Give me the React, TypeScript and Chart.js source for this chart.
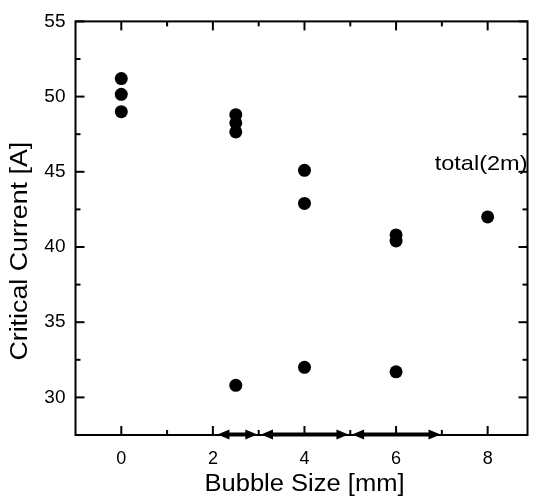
import React, { useEffect, useRef } from "react";
import { Chart, registerables } from "chart.js";

Chart.register(...registerables);

// ---- data ----
const bubbleSizes = [0, 0, 0, 2.5, 2.5, 2.5, 2.5, 4, 4, 4, 6, 6, 6, 8];
const criticalCurrents = [51.2, 50.15, 49.0, 48.8, 48.25, 47.65, 30.8, 45.1, 42.9, 32.0, 40.8, 40.4, 31.7, 42.0];

const xTickValues = [0, 2, 4, 6, 8];
const xMinorTickValues = [1, 3, 5, 7];
const yTickValues = [30, 35, 40, 45, 50, 55];
const yMinorTickValues = [32.5, 37.5, 42.5, 47.5, 52.5];

const arrowStarts = [2.1, 3.05, 5.04];
const arrowEnds = [2.97, 4.96, 6.97];

const annotationText = "total(2m)";
const annotationY = 45.15;

const xTitle = "Bubble Size [mm]";
const yTitle = "Critical Current [A]";

const FONT = '"Liberation Sans", Arial, Helvetica, sans-serif';

function drawStretched(ctx: CanvasRenderingContext2D, text: string, x: number, y: number, sx: number, align: CanvasTextAlign) {
  ctx.save();
  ctx.translate(x, y);
  ctx.scale(sx, 1);
  ctx.textAlign = align;
  ctx.textBaseline = "alphabetic";
  ctx.fillText(text, 0, 0);
  ctx.restore();
}

const overlayPlugin = {
  id: "overlay",
  afterDraw(chart: any) {
    const { ctx, chartArea: a, scales } = chart;
    const xs = scales.x;
    const ys = scales.y;
    ctx.save();
    ctx.strokeStyle = "#000";
    ctx.fillStyle = "#000";
    ctx.lineWidth = 2;
    ctx.strokeRect(a.left, a.top, a.right - a.left, a.bottom - a.top);

    const line = (x1: number, y1: number, x2: number, y2: number) => {
      ctx.beginPath();
      ctx.moveTo(x1, y1);
      ctx.lineTo(x2, y2);
      ctx.stroke();
    };
    const major = 9;
    const minor = 5;
    xTickValues.forEach((v) => {
      const px = xs.getPixelForValue(v);
      line(px, a.bottom, px, a.bottom - major);
      line(px, a.top, px, a.top + major);
    });
    xMinorTickValues.forEach((v) => {
      const px = xs.getPixelForValue(v);
      line(px, a.bottom, px, a.bottom - minor);
      line(px, a.top, px, a.top + minor);
    });
    yTickValues.forEach((v) => {
      const py = ys.getPixelForValue(v);
      line(a.left, py, a.left + major, py);
      line(a.right, py, a.right - major, py);
    });
    yMinorTickValues.forEach((v) => {
      const py = ys.getPixelForValue(v);
      line(a.left, py, a.left + minor, py);
      line(a.right, py, a.right - minor, py);
    });

    // double-headed arrows on the x axis
    const ay = a.bottom - 0.5;
    const headLen = 12;
    const headHalf = 5;
    arrowStarts.forEach((s, i) => {
      const x1 = xs.getPixelForValue(s);
      const x2 = xs.getPixelForValue(arrowEnds[i]);
      ctx.lineWidth = 4;
      line(x1 + headLen - 2, ay, x2 - headLen + 2, ay);
      ctx.beginPath();
      ctx.moveTo(x1, ay);
      ctx.lineTo(x1 + headLen, ay - headHalf);
      ctx.lineTo(x1 + headLen, ay + headHalf);
      ctx.closePath();
      ctx.fill();
      ctx.beginPath();
      ctx.moveTo(x2, ay);
      ctx.lineTo(x2 - headLen, ay - headHalf);
      ctx.lineTo(x2 - headLen, ay + headHalf);
      ctx.closePath();
      ctx.fill();
    });

    // annotation
    ctx.font = `21px ${FONT}`;
    drawStretched(ctx, annotationText, a.right, ys.getPixelForValue(annotationY), 1.12, "right");

    // axis titles
    ctx.font = `23px ${FONT}`;
    drawStretched(ctx, xTitle, (a.left + a.right) / 2 + 3, a.bottom + 56, 1.11, "center");

    ctx.save();
    ctx.translate(27, (a.top + a.bottom) / 2 + 23);
    ctx.rotate(-Math.PI / 2);
    ctx.font = `23.5px ${FONT}`;
    drawStretched(ctx, yTitle, 0, 0, 1.14, "center");
    ctx.restore();

    ctx.restore();
  },
};

export default function App() {
  const canvasRef = useRef<HTMLCanvasElement | null>(null);

  useEffect(() => {
    document.body.style.margin = "0";
    const canvas = canvasRef.current;
    if (!canvas) return;
    const chart = new Chart(canvas, {
      type: "scatter",
      data: {
        datasets: [
          {
            data: bubbleSizes.map((x, i) => ({ x, y: criticalCurrents[i] })),
            backgroundColor: "#000",
            borderColor: "#000",
            pointRadius: 6.5,
            pointHoverRadius: 6.5,
            borderWidth: 0,
          },
        ],
      },
      options: {
        responsive: false,
        animation: false,
        devicePixelRatio: 1,
        layout: { padding: { top: 18, right: 6, left: 0, bottom: 0 } },
        plugins: {
          legend: { display: false },
          tooltip: { enabled: false },
        },
        events: [],
        scales: {
          x: {
            type: "linear",
            min: -1,
            max: 8.87,
            grid: { display: false, drawTicks: false },
            border: { display: false },
            afterBuildTicks: (scale: any) => {
              scale.ticks = xTickValues.map((v) => ({ value: v }));
            },
            afterFit: (scale: any) => {
              scale.height = 68;
            },
            ticks: {
              color: "#000",
              padding: 13,
              maxRotation: 0,
              font: { family: FONT, size: 18 },
            },
          },
          y: {
            type: "linear",
            min: 27.5,
            max: 55,
            grid: { display: false, drawTicks: false },
            border: { display: false },
            afterBuildTicks: (scale: any) => {
              scale.ticks = yTickValues.map((v) => ({ value: v }));
            },
            afterFit: (scale: any) => {
              scale.width = 75.5;
            },
            ticks: {
              color: "#000",
              padding: 10,
              font: { family: FONT, size: 19 },
            },
          },
        },
      },
      plugins: [overlayPlugin],
    } as any);
    return () => chart.destroy();
  }, []);

  return (
    <div style={{ width: 534, height: 503, background: "#fff" }}>
      <canvas ref={canvasRef} width={534} height={503} style={{ display: "block", width: 534, height: 503 }} />
    </div>
  );
}
